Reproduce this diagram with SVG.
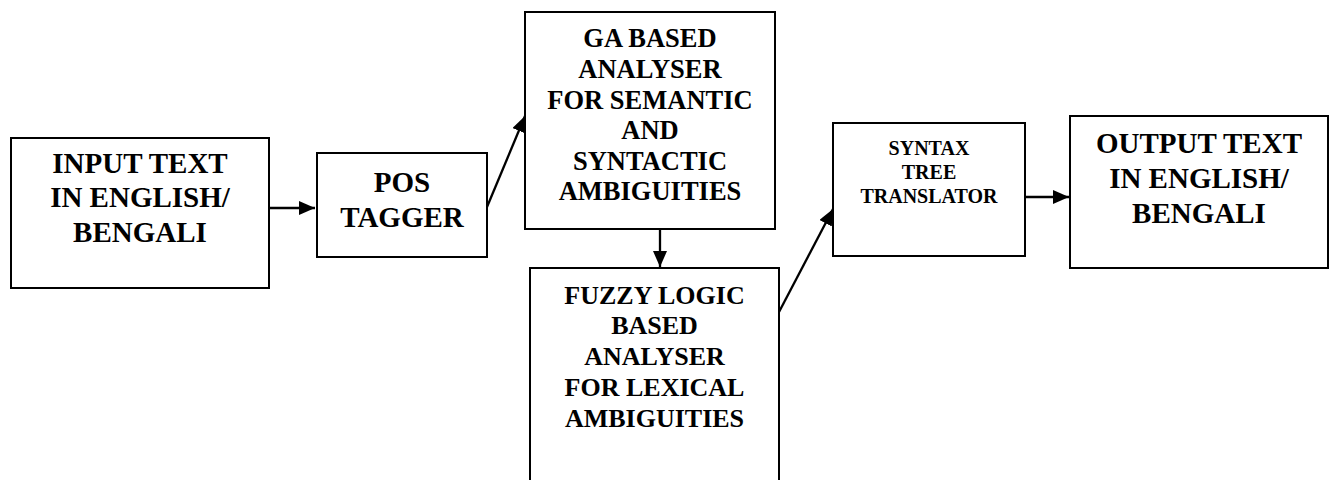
<svg xmlns="http://www.w3.org/2000/svg" width="1335" height="480" viewBox="0 0 1335 480">
<style>
.box{fill:#fff;stroke:#000;stroke-width:2}
.t{font-family:"Liberation Serif","Times New Roman",serif;font-weight:bold;text-anchor:middle;fill:#000}
.c{stroke:#000;stroke-width:2.3;fill:none;marker-end:url(#ah)}
</style>
<defs>
<marker id="ah" markerUnits="userSpaceOnUse" markerWidth="17" markerHeight="15" refX="16" refY="7" orient="auto">
<path d="M0,0 L16,7 L0,14 z" fill="#000"/>
</marker>
</defs>
<rect width="1335" height="480" fill="#fff"/>
<g id="input">
<rect class="box" x="11" y="138" width="258" height="150"/>
<text class="t" font-size="29"><tspan x="140" y="173">INPUT TEXT</tspan><tspan x="140" y="207">IN ENGLISH/</tspan><tspan x="140" y="242">BENGALI</tspan></text>
</g>
<g id="pos">
<rect class="box" x="317" y="153" width="170" height="104"/>
<text class="t" font-size="29"><tspan x="402" y="192">POS</tspan><tspan x="402" y="227">TAGGER</tspan></text>
</g>
<g id="ga">
<rect class="box" x="525" y="12" width="250" height="217"/>
<text class="t" font-size="26.5"><tspan x="650" y="47">GA BASED</tspan><tspan x="650" y="78">ANALYSER</tspan><tspan x="650" y="109">FOR SEMANTIC</tspan><tspan x="650" y="139">AND</tspan><tspan x="650" y="170">SYNTACTIC</tspan><tspan x="650" y="200">AMBIGUITIES</tspan></text>
</g>
<g id="fuzzy">
<rect class="box" x="530" y="268" width="249" height="230"/>
<text class="t" font-size="26"><tspan x="654.5" y="304">FUZZY LOGIC</tspan><tspan x="654.5" y="334">BASED</tspan><tspan x="654.5" y="365">ANALYSER</tspan><tspan x="654.5" y="396">FOR LEXICAL</tspan><tspan x="654.5" y="427">AMBIGUITIES</tspan></text>
</g>
<g id="syntax">
<rect class="box" x="833" y="123" width="192" height="133"/>
<text class="t" font-size="20"><tspan x="929" y="155">SYNTAX</tspan><tspan x="929" y="179">TREE</tspan><tspan x="929" y="203">TRANSLATOR</tspan></text>
</g>
<g id="output">
<rect class="box" x="1070" y="116" width="258" height="152"/>
<text class="t" font-size="29"><tspan x="1199" y="153">OUTPUT TEXT</tspan><tspan x="1199" y="188">IN ENGLISH/</tspan><tspan x="1199" y="223">BENGALI</tspan></text>
</g>
<g id="connectors">
<line class="c" x1="269" y1="208" x2="315" y2="208"/>
<line class="c" x1="487" y1="207" x2="525" y2="116"/>
<line class="c" x1="660" y1="229" x2="660" y2="267"/>
<line class="c" x1="779" y1="312" x2="833" y2="209"/>
<line class="c" x1="1025" y1="197" x2="1069" y2="197"/>
</g>
</svg>
